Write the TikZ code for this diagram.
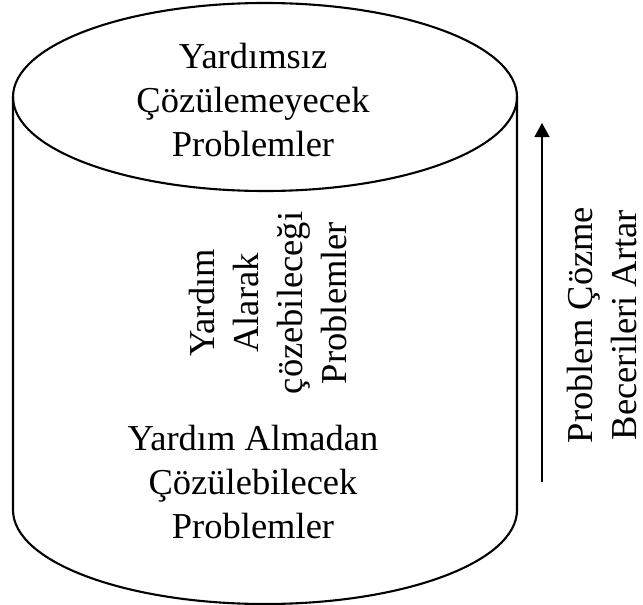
\documentclass[tikz,border=0pt]{standalone}
\usepackage{fontspec}
\setmainfont{Liberation Serif}
\usetikzlibrary{arrows.meta}

\begin{document}
\begin{tikzpicture}[x=1pt,y=-1pt,
  outline/.style={line width=2.1pt, line join=round},
  label/.style={font=\fontsize{36.5}{44}\selectfont, align=center, inner sep=0pt},
  rising/.style={line width=1.6pt, -{Triangle[width=15pt,length=14pt]}}]
  \useasboundingbox (0,0) rectangle (643,605);

  % cylinder: top face, then walls and rounded base
  \draw[outline] (265,97) ellipse [x radius=252, y radius=94];
  \draw[outline] (13,97) -- (13,510)
    arc[start angle=180, end angle=0, x radius=252, y radius=94] -- (517,97);

  % labels inside the cylinder
  \node[label] (hard) at (253,100.5) {Yardımsız\\Çözülemeyecek\\Problemler};
  \node[label, rotate=90] (helped) at (268.5,303) {Yardım\\Alarak\\çözebileceği\\Problemler};
  \node[label] (easy) at (253,482.5) {Yardım Almadan\\Çözülebilecek\\Problemler};

  % skill direction arrow and its caption
  \coordinate (low) at (542,482);
  \coordinate (high) at (542,123);
  \draw[rising] (low) -- (high);
  \node[label, rotate=90] (skill) at (602.5,325) {Problem Çözme\\Becerileri Artar};
\end{tikzpicture}
\end{document}
